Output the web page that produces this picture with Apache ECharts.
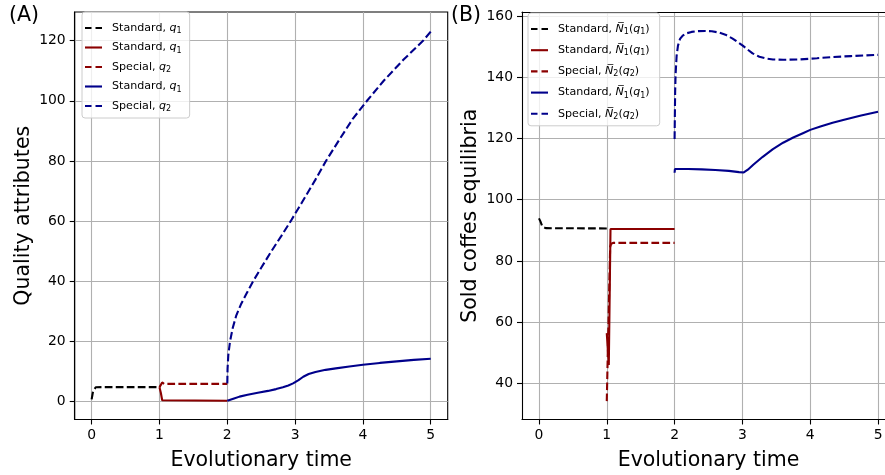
<!DOCTYPE html>
<html><head><meta charset="utf-8">
<script src="https://cdn.jsdelivr.net/npm/echarts@6/dist/echarts.min.js"></script>
<style>html,body{margin:0;padding:0;background:#fff}#c{width:885px;height:475px}</style>
</head><body><div id="c"></div>
<script>
// ---- tick labels ----
const xTicks = [0, 1, 2, 3, 4, 5];
const yTicksA = [0, 20, 40, 60, 80, 100, 120];
const yTicksB = [40, 60, 80, 100, 120, 140, 160];

// ---- Panel A: quality attributes [time, value] ----
const aStdQ1Black = [[0,0.8],[0.02,3.4],[0.06,4.8],[0.15,4.85],[1,4.85]];
const aStdQ1Red   = [[1,4.85],[1.02,3.0],[1.04,0.5],[1.06,0.35],[2,0.35]];
const aSpcQ2Red   = [[1,4.85],[1.02,5.6],[1.04,6.4],[1.07,5.95],[2,5.95]];
const aStdQ1Blue  = [[2,0.3],[2.1,1.1],[2.18,1.7],[2.3,2.3],[2.45,3.0],[2.6,3.6],[2.72,4.2],[2.82,4.8],[2.9,5.4],[2.97,6.1],[3.05,7.2],[3.12,8.3],[3.2,9.2],[3.3,9.9],[3.45,10.6],[3.6,11.1],[3.8,11.7],[4,12.3],[4.25,12.9],[4.5,13.4],[4.75,13.9],[5,14.3]];
const aSpcQ2Blue  = [[2,6.1],[2.004,11],[2.015,15.5],[2.04,20],[2.08,24.5],[2.13,28.5],[2.2,32.3],[2.28,35.8],[2.38,40],[2.5,44.5],[2.65,50],[2.8,55.2],[2.935,60],[3.1,66.2],[3.3,73.8],[3.455,80],[3.65,87],[3.85,94],[4.06,100],[4.3,106.5],[4.6,113.7],[4.89,120],[5,123]];

// ---- Panel B: sold coffees equilibria [time, value] ----
const bStdN1Black = [[0,93.9],[0.02,93],[0.05,91.2],[0.1,90.7],[1,90.6]];
const bStdN1Red   = [[1,56.4],[1.03,46],[1.055,90.4],[2,90.4]];
const bSpcN2Red   = [[1,34.2],[1.02,55],[1.05,84.7],[1.065,85.6],[1.1,85.9],[2,85.9]];
const bStdN1Blue  = [[2,108.8],[2.005,110],[2.2,110],[2.4,109.9],[2.6,109.7],[2.8,109.4],[2.95,109],[3.02,108.9],[3.08,109.8],[3.16,111.4],[3.3,114],[3.45,116.5],[3.6,118.6],[3.75,120.3],[3.9,121.8],[4,122.8],[4.15,123.9],[4.33,125.1],[4.5,126.1],[4.75,127.5],[5,128.7]];
const bSpcN2Blue  = [[2,119.8],[2.008,135],[2.015,141],[2.03,147],[2.05,150.3],[2.08,152.5],[2.12,153.6],[2.17,154.3],[2.25,154.8],[2.35,155.05],[2.45,155.1],[2.55,155],[2.65,154.6],[2.75,153.9],[2.85,152.7],[2.93,151.5],[3,150.4],[3.08,149],[3.15,147.8],[3.25,146.7],[3.35,146.1],[3.45,145.8],[3.6,145.7],[3.84,145.8],[4.1,146.2],[4.33,146.6],[4.6,146.9],[5,147.3]];

// legend texts
const legendA = ['Standard, {i|q}{s|1}','Standard, {i|q}{s|1}','Special, {i|q}{s|2}','Standard, {i|q}{s|1}','Special, {i|q}{s|2}'];
const legendB = ['Standard, {i|N\u0305}{s|1}({i|q}{s|1})','Standard, {i|N\u0305}{s|1}({i|q}{s|1})','Special, {i|N\u0305}{s|2}({i|q}{s|2})','Standard, {i|N\u0305}{s|1}({i|q}{s|1})','Special, {i|N\u0305}{s|2}({i|q}{s|2})'];

const FONT = 'DejaVu Sans';
const BLACK = '#000000', RED = '#8b0000', BLUE = '#00008b';
const DASH = [7.7, 3.3];
const ICON_DASH = 'path://M0,0H6.5V2.1H0Z M10.5,0H17V2.1H10.5Z';
const ICON_SOLID = 'path://M0,0H17V2.1H0Z';

function line(name, data, idx, color, dashed) {
  return {
    name, type: 'line', data, xAxisIndex: idx, yAxisIndex: idx,
    symbol: 'none', showSymbol: false, animation: false, smooth: false,
    lineStyle: { color, width: 2.1, type: dashed ? DASH : 'solid' },
    itemStyle: { color }
  };
}

function xAxis(idx) {
  return {
    type: 'value', gridIndex: idx, min: -0.25, max: 5.25,
    name: 'Evolutionary time', nameLocation: 'middle', nameGap: 31,
    nameTextStyle: { fontSize: 20.5, fontFamily: FONT, color: '#000' },
    axisLine: { show: true, onZero: false, lineStyle: { color: '#000', width: 1.1 } },
    axisTick: { show: true, customValues: xTicks, length: 5, lineStyle: { color: '#000', width: 1.1 } },
    axisLabel: { customValues: xTicks, margin: 9, fontSize: 13.9, fontFamily: FONT, color: '#000' },
    splitLine: { show: true, lineStyle: { color: '#b0b0b0', width: 1.1 } }
  };
}
// top spine of panel B (right spine falls outside the picture)
function topSpine(idx) {
  return {
    type: 'value', gridIndex: idx, position: 'top', min: -0.25, max: 5.25,
    axisLine: { show: true, onZero: false, lineStyle: { color: '#000', width: 1.1 } },
    axisTick: { show: false }, axisLabel: { show: false }, splitLine: { show: false }
  };
}
function yAxis(idx, min, max, ticks, name) {
  return {
    type: 'value', gridIndex: idx, min, max,
    name, nameLocation: 'middle', nameGap: 41,
    nameTextStyle: { fontSize: 20.5, fontFamily: FONT, color: '#000' },
    axisLine: { show: true, onZero: false, lineStyle: { color: '#000', width: 1.1 } },
    axisTick: { show: true, customValues: ticks, length: 5, lineStyle: { color: '#000', width: 1.1 } },
    axisLabel: { customValues: ticks, margin: 9, fontSize: 13.9, fontFamily: FONT, color: '#000' },
    splitLine: { show: true, lineStyle: { color: '#b0b0b0', width: 1.1 } }
  };
}
const dashedFlags = [true, false, true, false, true];
function legend(names, labels, left, top, gap, pad) {
  return {
    show: true, orient: 'vertical', left, top, selectedMode: false,
    data: names.map((n, i) => ({ name: n, icon: dashedFlags[i] ? ICON_DASH : ICON_SOLID })),
    itemWidth: 17, itemHeight: 2.1, itemGap: gap, symbolKeepAspect: false,
    padding: pad,
    itemStyle: { borderWidth: 0 },
    backgroundColor: 'rgba(255,255,255,0.8)', borderColor: '#cccccc', borderWidth: 1, borderRadius: 3,
    formatter: n => labels[names.indexOf(n)],
    textStyle: { fontSize: 11.1, fontFamily: FONT, color: '#000', lineHeight: 14, padding: [0, 0, 0, 5],
      rich: {
        i: { fontStyle: 'italic', fontSize: 11.1, fontFamily: FONT, color: '#000' },
        s: { fontSize: 8, fontFamily: FONT, color: '#000', verticalAlign: 'bottom', lineHeight: 8 }
      } }
  };
}

const namesA = ['a1','a2','a3','a4','a5'];
const namesB = ['b1','b2','b3','b4','b5'];

const option = {
  backgroundColor: '#fff',
  animation: false,
  title: [
    { text: '(A)', left: 9, top: 5, padding: 0, textStyle: { fontSize: 20.5, fontWeight: 'normal', fontFamily: FONT, color: '#000' } },
    { text: '(B)', left: 451, top: 5, padding: 0, textStyle: { fontSize: 20.5, fontWeight: 'normal', fontFamily: FONT, color: '#000' } }
  ],
  grid: [
    { left: 74.7, top: 12, width: 373, height: 407.5, outerBoundsMode: 'none', containLabel: false, show: true, borderColor: '#000', borderWidth: 1.1, backgroundColor: 'transparent' },
    { left: 522, top: 12, width: 373, height: 407.5, outerBoundsMode: 'none', containLabel: false, show: false }
  ],
  xAxis: [xAxis(0), xAxis(1), topSpine(1)],
  yAxis: [yAxis(0, -5.9, 129.5, yTicksA, 'Quality attributes'), yAxis(1, 28.2, 161.3, yTicksB, 'Sold coffes equilibria')],
  legend: [legend(namesA, legendA, 82, 12, 5.5, [9, 8, 5, 3]), legend(namesB, legendB, 528, 13, 7.2, [9, 10, 5, 3])],
  series: [
    line('a1', aStdQ1Black, 0, BLACK, true),
    line('a2', aStdQ1Red, 0, RED, false),
    line('a3', aSpcQ2Red, 0, RED, true),
    line('a4', aStdQ1Blue, 0, BLUE, false),
    line('a5', aSpcQ2Blue, 0, BLUE, true),
    line('b1', bStdN1Black, 1, BLACK, true),
    line('b2', bStdN1Red, 1, RED, false),
    line('b3', bSpcN2Red, 1, RED, true),
    line('b4', bStdN1Blue, 1, BLUE, false),
    line('b5', bSpcN2Blue, 1, BLUE, true)
  ]
};
const chart = echarts.init(document.getElementById('c'), null, { renderer: 'canvas' });
chart.setOption(option);
</script>
</body></html>
